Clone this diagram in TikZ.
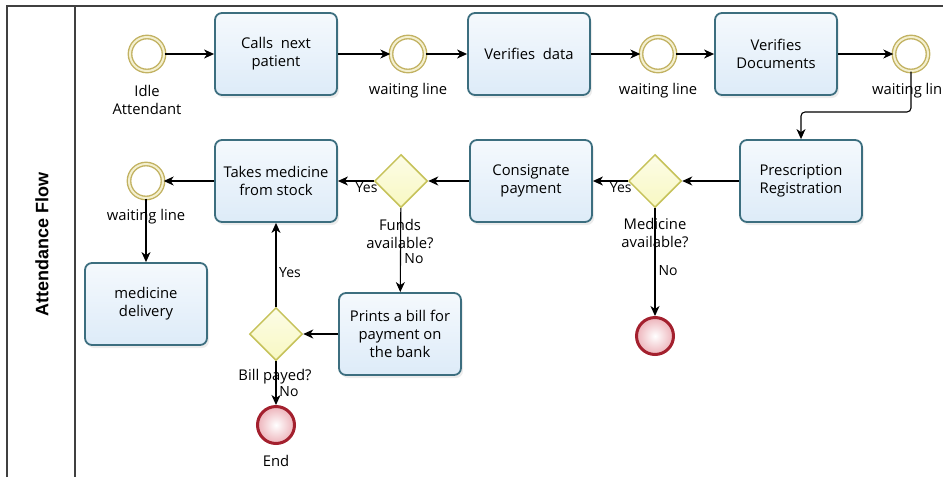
\documentclass[tikz,border=0pt]{standalone}
\usepackage{fontspec}
\setmainfont{Open Sans}
\newfontfamily\poolfont{Liberation Sans}
\usetikzlibrary{arrows.meta,shapes.geometric,shadows}
\definecolor{taskc}{HTML}{3C6E7F}
\definecolor{taskf}{HTML}{DDEBF8}
\definecolor{evc}{HTML}{C2B262}
\definecolor{evl}{HTML}{F4F0D0}
\definecolor{gwc}{HTML}{C6C25A}
\definecolor{gwf}{HTML}{F8F8C2}
\definecolor{endc}{HTML}{A3202E}
\definecolor{endf}{HTML}{EDB3BA}
\definecolor{poolc}{HTML}{404040}
\tikzset{
  task/.style={draw=taskc, line width=1.8pt, rounded corners=7pt,
    top color=white!70!taskf, bottom color=taskf, minimum width=122pt, minimum height=82pt,
    align=center, inner sep=2pt, font=\fontsize{14.8}{18}\selectfont,
    drop shadow={opacity=0.15, shadow xshift=2pt, shadow yshift=-3pt}},
  event/.style={circle, draw=evc, line width=1.4pt, double=evl, double distance=2pt,
    fill=white, minimum size=34pt, inner sep=0pt},
  endev/.style={circle, draw=endc, line width=3pt, inner color=white, outer color=endf,
    minimum size=37pt, inner sep=0pt},
  gateway/.style={diamond, draw=gwc, line width=1.5pt, top color=white!60!gwf, bottom color=gwf,
    minimum width=53pt, minimum height=53pt, inner sep=0pt, aspect=1},
  lbl/.style={align=center, inner sep=1pt, font=\fontsize{14.8}{18}\selectfont},
  slbl/.style={inner sep=1pt, font=\fontsize{14}{16}\selectfont},
  flow/.style={draw=black, line width=1.1pt, -{Stealth[length=10pt,width=9pt,inset=3pt]}},
  poolline/.style={draw=poolc, line width=1.4pt}
}
\begin{document}
\begin{tikzpicture}[x=1pt,y=-1pt]
\useasboundingbox (0,0) rectangle (943,477);
% pool
\draw[poolline] (7,477) -- (7,6) -- (943,6);
\draw[poolline] (75,6) -- (75,477);
\node[rotate=90, font=\poolfont\bfseries\fontsize{18}{20}\selectfont] (pool) at (42,244) {Attendance Flow};

% row 1
\node[event] (idle) at (147,54) {};
\node[lbl] (idlel) at (147,100) {Idle\\Attendant};
\node[task] (calls) at (276,54) {Calls\ \ next\\patient};
\node[event] (wl1) at (408,54) {};
\node[lbl] (wl1l) at (408,91) {waiting line};
\node[task] (vdata) at (529,54) {Verifies\ \ data};
\node[event] (wl2) at (658,54) {};
\node[lbl] (wl2l) at (658,91) {waiting line};
\node[task] (vdocs) at (776,54) {Verifies\\Documents};
\node[event] (wl3) at (911,54) {};
\node[lbl, anchor=west] (wl3l) at (871,91) {waiting line};
\coordinate (bend) at (911,112);

% row 2
\node[task] (presc) at (801,181) {Prescription\\Registration};
\node[gateway] (gmed) at (655,181) {};
\node[lbl] (gmedl) at (655,233) {Medicine\\available?};
\node[endev] (endmed) at (655,336) {};
\node[task] (consig) at (531,181) {Consignate\\payment};
\node[gateway] (gfund) at (401,181) {};
\node[lbl] (gfundl) at (400,234) {Funds\\available?};
\node[task] (takes) at (276,181) {Takes medicine\\from stock};
\node[event] (wl4) at (146,181) {};
\node[lbl] (wl4l) at (146,217) {waiting line};

% row 3
\node[task] (deliv) at (146,304) {medicine\\delivery};
\node[task] (bill) at (400,334) {Prints a bill for\\payment on\\the bank};
\node[gateway] (gbill) at (276,334) {};
\node[lbl] (gbilll) at (275,377) {Bill payed?};
\node[endev] (endb) at (276,425) {};
\node[lbl] (endl) at (276,461) {End};

% flows
\draw[flow] (idle) -- (calls);
\draw[flow] (calls) -- (wl1);
\draw[flow] (wl1) -- (vdata);
\draw[flow] (vdata) -- (wl2);
\draw[flow] (wl2) -- (vdocs);
\draw[flow] (vdocs) -- (wl3);
\draw[flow, rounded corners=4pt] (wl3) -- (bend) -| (presc);
\draw[flow] (presc) -- (gmed);
\draw[flow] (gmed) -- node[slbl, pos=0.2, below=0pt] (ymed) {Yes} (consig);
\draw[flow] (gmed) -- (endmed);
\node[slbl] (nmed) at (668,271) {No};
\draw[flow] (consig) -- (gfund);
\draw[flow] (gfund) -- node[slbl, pos=0.2, below=0pt] (yfund) {Yes} (takes);
\draw[flow] (gfund) -- (bill);
\node[slbl] (nfund) at (414,259) {No};
\draw[flow] (takes) -- (wl4);
\draw[flow] (wl4) -- (deliv);
\draw[flow] (bill) -- (gbill);
\draw[flow] (gbill) -- (takes);
\node[slbl] (ybill) at (290,273) {Yes};
\draw[flow] (gbill) -- (endb);
\node[slbl] (nbill) at (289,392) {No};
\end{tikzpicture}
\end{document}
